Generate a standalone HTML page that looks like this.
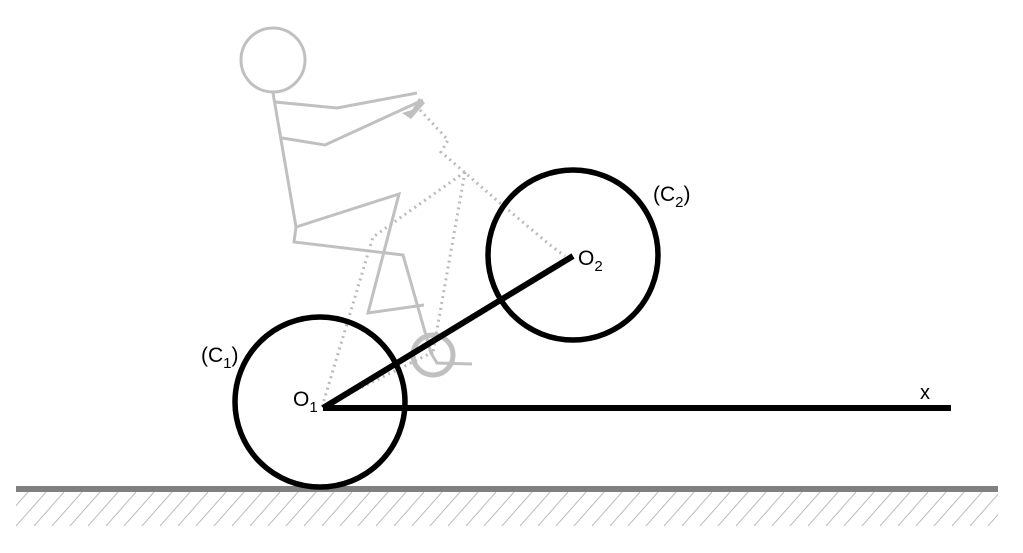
<!DOCTYPE html>
<html><head><meta charset="utf-8"><style>
html,body{margin:0;padding:0;background:#fff;}
svg{display:block;}
text{font-family:"Liberation Sans",sans-serif;}
</style></head><body>
<svg width="1023" height="553" viewBox="0 0 1023 553" xmlns="http://www.w3.org/2000/svg">
<defs>
<pattern id="h" width="18" height="34" patternUnits="userSpaceOnUse" x="16" y="492">
<line x1="0" y1="34" x2="30" y2="0" stroke="#bbb" stroke-width="1"/>
<line x1="18" y1="34" x2="48" y2="0" stroke="#bbb" stroke-width="1"/>
<line x1="-18" y1="34" x2="12" y2="0" stroke="#bbb" stroke-width="1"/>
</pattern>
</defs>
<rect x="16" y="492" width="982" height="34" fill="url(#h)"/>
<rect x="16" y="486" width="982" height="6" fill="#808080"/>
<g stroke="#c0c0c0" stroke-width="3" fill="none" stroke-linejoin="miter">
<circle cx="273" cy="60" r="32"/>
<polyline points="273,93 296,227 294,242 403,255 431,353 437,363 472,364"/>
<polyline points="275,102 337,108 417,93"/>
<polyline points="282,138 325,145 423,100"/>
<polyline points="296,227 399,194 368,313 424,305"/>
<circle cx="433" cy="355" r="20" stroke-width="5"/>
</g>
<polygon points="419,98 425,103 411,119 402,113 412,110" fill="#c0c0c0"/>
<g stroke="#bbb" stroke-width="3" fill="none" stroke-dasharray="2,4">
<polyline points="420,110 448,140 441,152 500,203 550,245 565,256"/>
<polyline points="465,172 373,237 322,407"/>
<polyline points="465,172 433,352"/>
<polyline points="433,352 322,407"/>
</g>
<g stroke="#000" stroke-width="5.5" fill="none">
<circle cx="320" cy="402" r="85"/>
<circle cx="573" cy="255" r="85"/>
<line x1="323" y1="408" x2="951" y2="408" stroke-width="6"/>
<line x1="323" y1="408" x2="573" y2="256" stroke-width="6"/>
</g>
<text x="293" y="406" font-size="21">O<tspan font-size="15" dy="6">1</tspan></text>
<text x="578" y="265" font-size="21">O<tspan font-size="15" dy="6">2</tspan></text>
<text x="201" y="362" font-size="21">(C<tspan font-size="15" dy="6">1</tspan><tspan dy="-6">)</tspan></text>
<text x="653" y="201" font-size="21">(C<tspan font-size="15" dy="6">2</tspan><tspan dy="-6">)</tspan></text>
<text x="920" y="399" font-size="20">x</text>
</svg>
</body></html>
